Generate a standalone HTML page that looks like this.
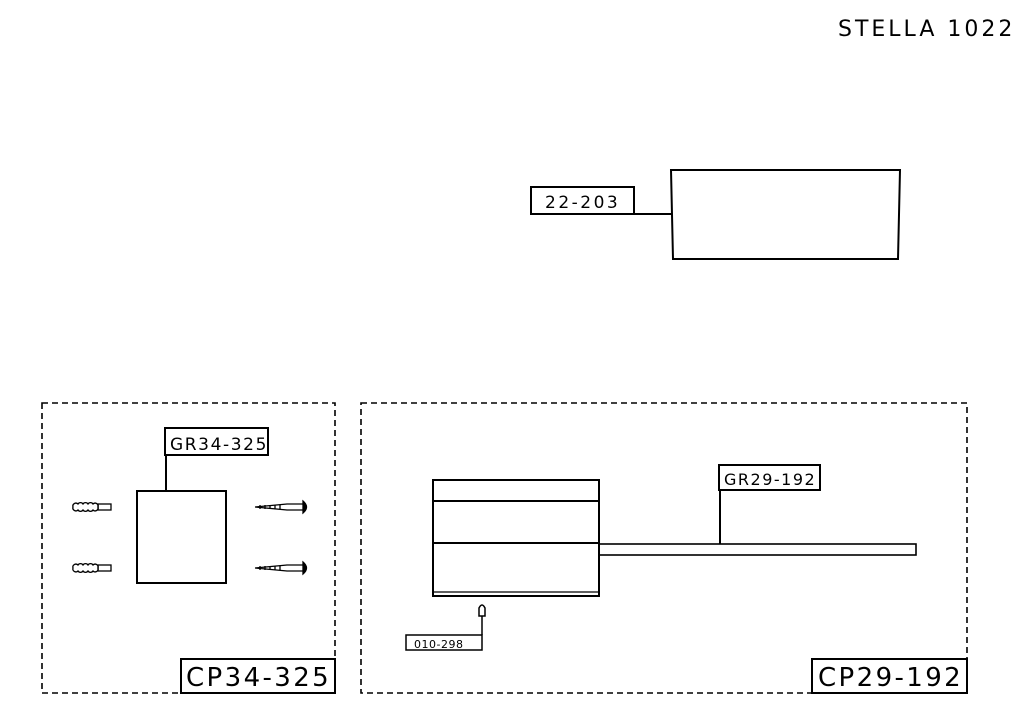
<!DOCTYPE html>
<html><head><meta charset="utf-8"><style>
html,body{margin:0;padding:0;background:#fff;}
svg{display:block;}
text{font-family:"DejaVu Sans","Liberation Sans",sans-serif;fill:#000;}
</style></head><body>
<svg width="1024" height="717" viewBox="0 0 1024 717" xmlns="http://www.w3.org/2000/svg">
<g fill="none" stroke="#000" stroke-width="2">
<rect x="531" y="187" width="103" height="27"/>
<line x1="634" y1="214" x2="672" y2="214"/>
<polygon points="671,170 900,170 898,259 673,259"/>
<rect x="42" y="403" width="293" height="290" stroke-dasharray="6,4" stroke-width="1.6"/>
<rect x="165" y="428" width="103" height="27"/>
<line x1="166" y1="455" x2="166" y2="491"/>
<rect x="137" y="491" width="89" height="92"/>
<rect x="181" y="659" width="154" height="34"/>
<g stroke-width="1.3">
<rect x="98" y="504" width="13" height="6"/>
<rect x="98" y="565" width="13" height="6"/>
<path d="M73 507a3 3 0 0 1 5-3a3 3 0 0 1 5 0a3 3 0 0 1 5 0a3 3 0 0 1 5 0a3 3 0 0 1 5 3a3 3 0 0 1-5 3a3 3 0 0 1-5 0a3 3 0 0 1-5 0a3 3 0 0 1-5 0a3 3 0 0 1-5-3z"/>
<path d="M73 568a3 3 0 0 1 5-3a3 3 0 0 1 5 0a3 3 0 0 1 5 0a3 3 0 0 1 5 0a3 3 0 0 1 5 3a3 3 0 0 1-5 3a3 3 0 0 1-5 0a3 3 0 0 1-5 0a3 3 0 0 1-5 0a3 3 0 0 1-5-3z"/>
<path d="M255 507 L287 504 L303 504 M255 507 L287 510 L303 510"/>
<path d="M260 505v4M265 505v4M270 505v4M275 505v4M280 505v4"/>
<path d="M303 501 Q310 507 303 513 Z" fill="#000"/>
<path d="M255 568 L287 565 L303 565 M255 568 L287 571 L303 571"/>
<path d="M260 566v4M265 566v4M270 566v4M275 566v4M280 566v4"/>
<path d="M303 562 Q310 568 303 574 Z" fill="#000"/>
</g>
<rect x="361" y="403" width="606" height="290" stroke-dasharray="6,4" stroke-width="1.6"/>
<rect x="433" y="480" width="166" height="116"/>
<line x1="433" y1="501" x2="599" y2="501"/>
<line x1="433" y1="543" x2="599" y2="543"/>
<line x1="433" y1="592" x2="599" y2="592" stroke-width="1.3"/>
<rect x="599" y="544" width="317" height="11" stroke-width="1.6"/>
<rect x="719" y="465" width="101" height="25"/>
<line x1="720" y1="490" x2="720" y2="544"/>
<rect x="406" y="635" width="76" height="15" stroke-width="1.5"/>
<line x1="482" y1="616" x2="482" y2="635" stroke-width="1.5"/>
<path d="M479 616 V608 Q482 602 485 608 V616 Z" stroke-width="1.5"/>
<rect x="812" y="659" width="155" height="34"/>
</g>
<text x="838" y="36" font-size="22" letter-spacing="3">STELLA 1022</text>
<text x="170" y="450" font-size="17" letter-spacing="1.6">GR34-325</text>
<text x="545" y="208" font-size="17" letter-spacing="2.5">22-203</text>
<text x="724" y="485" font-size="16" letter-spacing="1.5">GR29-192</text>
<text x="414" y="648" font-size="11" letter-spacing="0.5">010-298</text>
<text x="186" y="686" font-size="26" letter-spacing="2.4">CP34-325</text>
<text x="818" y="686" font-size="26" letter-spacing="2.4">CP29-192</text>
</svg>
</body></html>
